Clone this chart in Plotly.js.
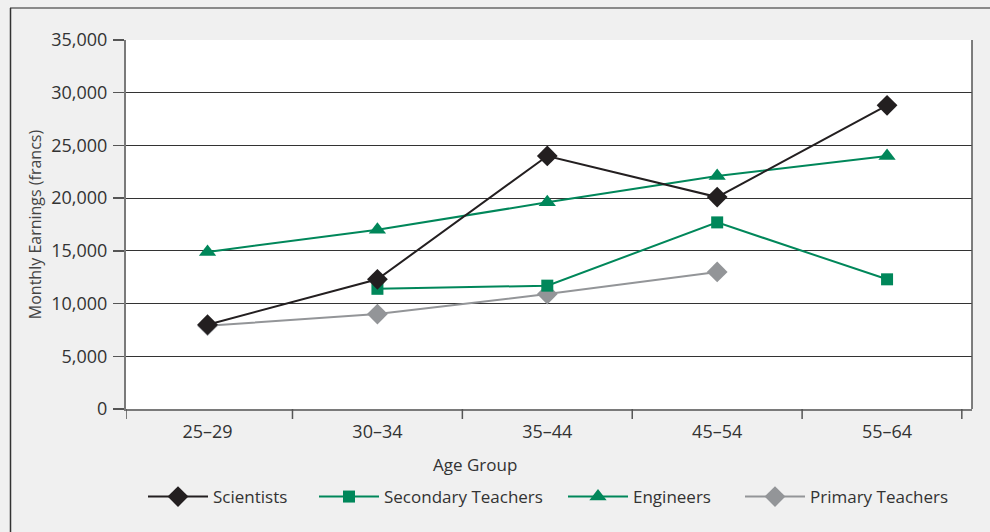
<!DOCTYPE html>
<html>
<head>
<meta charset="utf-8">
<script src="https://cdn.plot.ly/plotly-3.0.1.min.js"></script>
<style>html,body{margin:0;padding:0;background:#f0f0f0;}#chart{width:990px;height:532px;}</style>
</head>
<body>
<div id="chart"></div>
<script>
var ageGroups = ["25–29", "30–34", "35–44", "45–54", "55–64"];
var scientists = [8000, 12300, 24000, 20100, 28800];
var secondaryTeachers = [null, 11400, 11700, 17700, 12300];
var engineers = [14900, 17000, 19600, 22100, 24000];
var primaryTeachers = [7900, 9000, 10900, 13000, null];
var yTicks = [0, 5000, 10000, 15000, 20000, 25000, 30000, 35000];

var FONT = "Open Sans, Noto Sans, sans-serif";
var green = "#00875a";

// pixel helpers for paper coordinates (plot area 126..972 x 40..409)
function px(x) { return (x - 126) / 846; }
function py(y) { return (409 - y) / 369; }

function series(name, y, color, symbol, size, legendId) {
  return {
    type: "scatter", mode: "lines+markers", name: name,
    x: ageGroups, y: y,
    line: {color: color, width: 2},
    marker: {color: color, symbol: symbol, size: size},
    connectgaps: false, legend: legendId
  };
}

var data = [
  series("Primary Teachers", primaryTeachers, "#939598", "diamond", 16, "legend4"),
  series("Engineers", engineers, green, "triangle-up", 15, "legend3"),
  series("Secondary Teachers", secondaryTeachers, green, "square", 12, "legend2"),
  series("Scientists", scientists, "#231f20", "diamond", 16, "legend")
];

function legendAt(xStart) {
  return {
    orientation: "h", x: px(xStart), y: py(497), xanchor: "left", yanchor: "middle",
    font: {size: 17, color: "#333333"}, bgcolor: "rgba(0,0,0,0)", itemwidth: 60
  };
}

// tick marks between categories (category-axis units)
var tickShapes = [-0.48, 0.5, 1.5, 2.5, 3.5, 4.44].map(function (v) {
  return {type: "line", xref: "x", yref: "paper", x0: v, x1: v, y0: 0, y1: -10 / 369,
          line: {color: "#555555", width: 1.5}};
});

var layout = {
  width: 990, height: 532,
  paper_bgcolor: "#f0f0f0", plot_bgcolor: "#ffffff",
  margin: {l: 126, r: 18, t: 40, b: 123, pad: 0},
  font: {family: FONT, color: "#333333", size: 16},
  showlegend: true,
  legend: legendAt(143),
  legend2: legendAt(314),
  legend3: legendAt(563),
  legend4: legendAt(740),
  xaxis: {
    type: "category", range: [-0.48, 4.5],
    ticks: "", showline: true, linecolor: "#7a7a7a", linewidth: 2,
    showgrid: false, zeroline: false, fixedrange: true,
    tickfont: {size: 18, color: "#333333"}, ticklabelstandoff: 5
  },
  yaxis: {
    range: [0, 35000], tickvals: yTicks, tickformat: ",d",
    ticks: "outside", ticklen: 11, tickcolor: "#555555", tickwidth: 1.5,
    showline: true, linecolor: "#7a7a7a", linewidth: 2,
    showgrid: true, gridcolor: "#333333", gridwidth: 1, zeroline: false,
    tickfont: {size: 18, color: "#333333"}, ticklabelstandoff: 2,
    title: {text: "Monthly Earnings (francs)", font: {size: 16, color: "#444444"}, standoff: 6}
  },
  shapes: tickShapes.concat([
    {type: "line", xref: "paper", yref: "paper", x0: 1, x1: 1, y0: 0, y1: 1, line: {color: "#555555", width: 1.5}},
    {type: "line", xref: "paper", yref: "paper", x0: px(10), x1: px(995), y0: py(8), y1: py(8), line: {color: "#8a8a8a", width: 2}},
    {type: "line", xref: "paper", yref: "paper", x0: px(10.5), x1: px(10.5), y0: py(8), y1: py(540), line: {color: "#333333", width: 1.5}}
  ]),
  annotations: [
    {text: "Age Group", xref: "paper", yref: "paper", x: px(475), y: py(464), xanchor: "center", yanchor: "middle",
     showarrow: false, font: {size: 17, color: "#333333"}}
  ]
};

Plotly.newPlot("chart", data, layout, {displayModeBar: false, staticPlot: true});
</script>
</body>
</html>
